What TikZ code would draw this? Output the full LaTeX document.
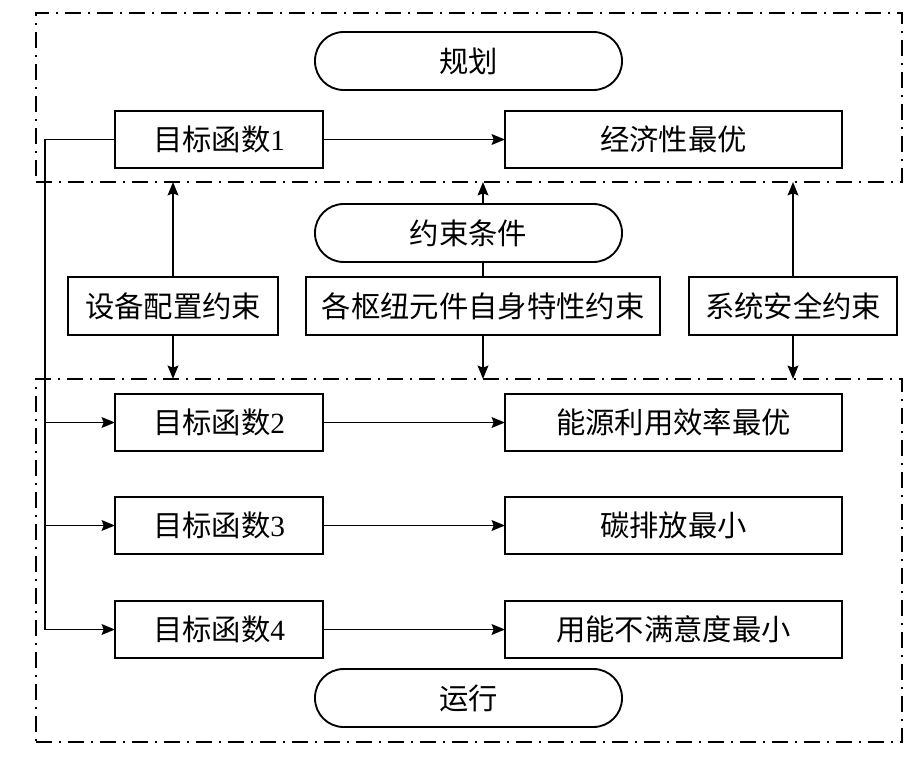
\documentclass[tikz,border=0pt]{standalone}
\usepackage{fontspec}
\setmainfont{Liberation Serif}
\newfontfamily\cjk{Noto Sans CJK SC}
\usetikzlibrary{arrows.meta,positioning}
\tikzset{
frame/.style={draw, line width=1.4pt, dash pattern=on 12pt off 5pt on 2pt off 5pt, inner sep=0pt, outer sep=0pt}, % dash-dot area
box/.style={draw, line width=1.4pt, minimum height=42.75pt, inner sep=0pt, outer sep=0pt, font=\cjk\fontsize{22}{25}\selectfont},
pill/.style={box, rounded corners=21.5pt, minimum width=230.25pt, minimum height=43.5pt},
arr/.style={line width=1.4pt, -{Stealth[length=10pt,width=8pt,inset=1.5pt]}},
link/.style={line width=1.4pt},
}

\begin{document}
\begin{tikzpicture}[x=0.75pt,y=0.75pt,yscale=-1,xscale=1]
\useasboundingbox (0,0) rectangle (922,761);
%Areas
\node[frame, minimum width=649.5pt, minimum height=126.75pt] (plan) at (469,97.5) {};
\node[frame, minimum width=649.5pt, minimum height=272.25pt] (run) at (469,560.5) {};
%Rounded Rect
\node[pill] (guihua) at (468.5,61) {规划};
\node[pill] (cond) at (468.5,233) {约束条件};
\node[pill] (yunxing) at (468.5,698) {运行};
%Objectives
\node[box, minimum width=156pt] (obj1) at (219,139.5) {目标函数{\rmfamily 1}};
\node[box, minimum width=156pt] (obj2) at (219,422.5) {目标函数{\rmfamily 2}};
\node[box, minimum width=156pt] (obj3) at (219,525.5) {目标函数{\rmfamily 3}};
\node[box, minimum width=156pt] (obj4) at (219,629.5) {目标函数{\rmfamily 4}};
\node[box, minimum width=252.75pt] (res1) at (673.5,139.5) {经济性最优};
\node[box, minimum width=252.75pt] (res2) at (673.5,422.5) {能源利用效率最优};
\node[box, minimum width=252.75pt] (res3) at (673.5,525.5) {碳排放最小};
\node[box, minimum width=252.75pt] (res4) at (673.5,629.5) {用能不满意度最小};
%Constraints
\node[box, minimum width=157.5pt, minimum height=43.5pt] (c1) at (173,306) {设备配置约束};
\node[box, minimum width=265.5pt, minimum height=43.5pt] (c2) at (483,306) {各枢纽元件自身特性约束};
\node[box, minimum width=156pt, minimum height=43.5pt] (c3) at (793,306) {系统安全约束};
%Straight Lines
\foreach \i in {1,...,4}
  \draw[arr] (obj\i) -- (res\i);
\draw[link] (obj1.west) -- ++(-70,0) coordinate (tap) -- (tap |- obj4.west);
\foreach \i in {2,3,4}
  \draw[arr] (tap |- obj\i.west) -- (obj\i.west);
\draw[arr] (c1.north) -- (c1.north |- plan.south);
\draw[arr] (c1.south) -- (c1.south |- run.north);
\draw[arr] (c3.north) -- (c3.north |- plan.south);
\draw[arr] (c3.south) -- (c3.south |- run.north);
\draw[link] (c2.north) -- (c2.north |- cond.south);
\draw[arr] (c2.north |- cond.north) -- (c2.north |- plan.south);
\draw[arr] (c2.south) -- (c2.south |- run.north);
\end{tikzpicture}
\end{document}
